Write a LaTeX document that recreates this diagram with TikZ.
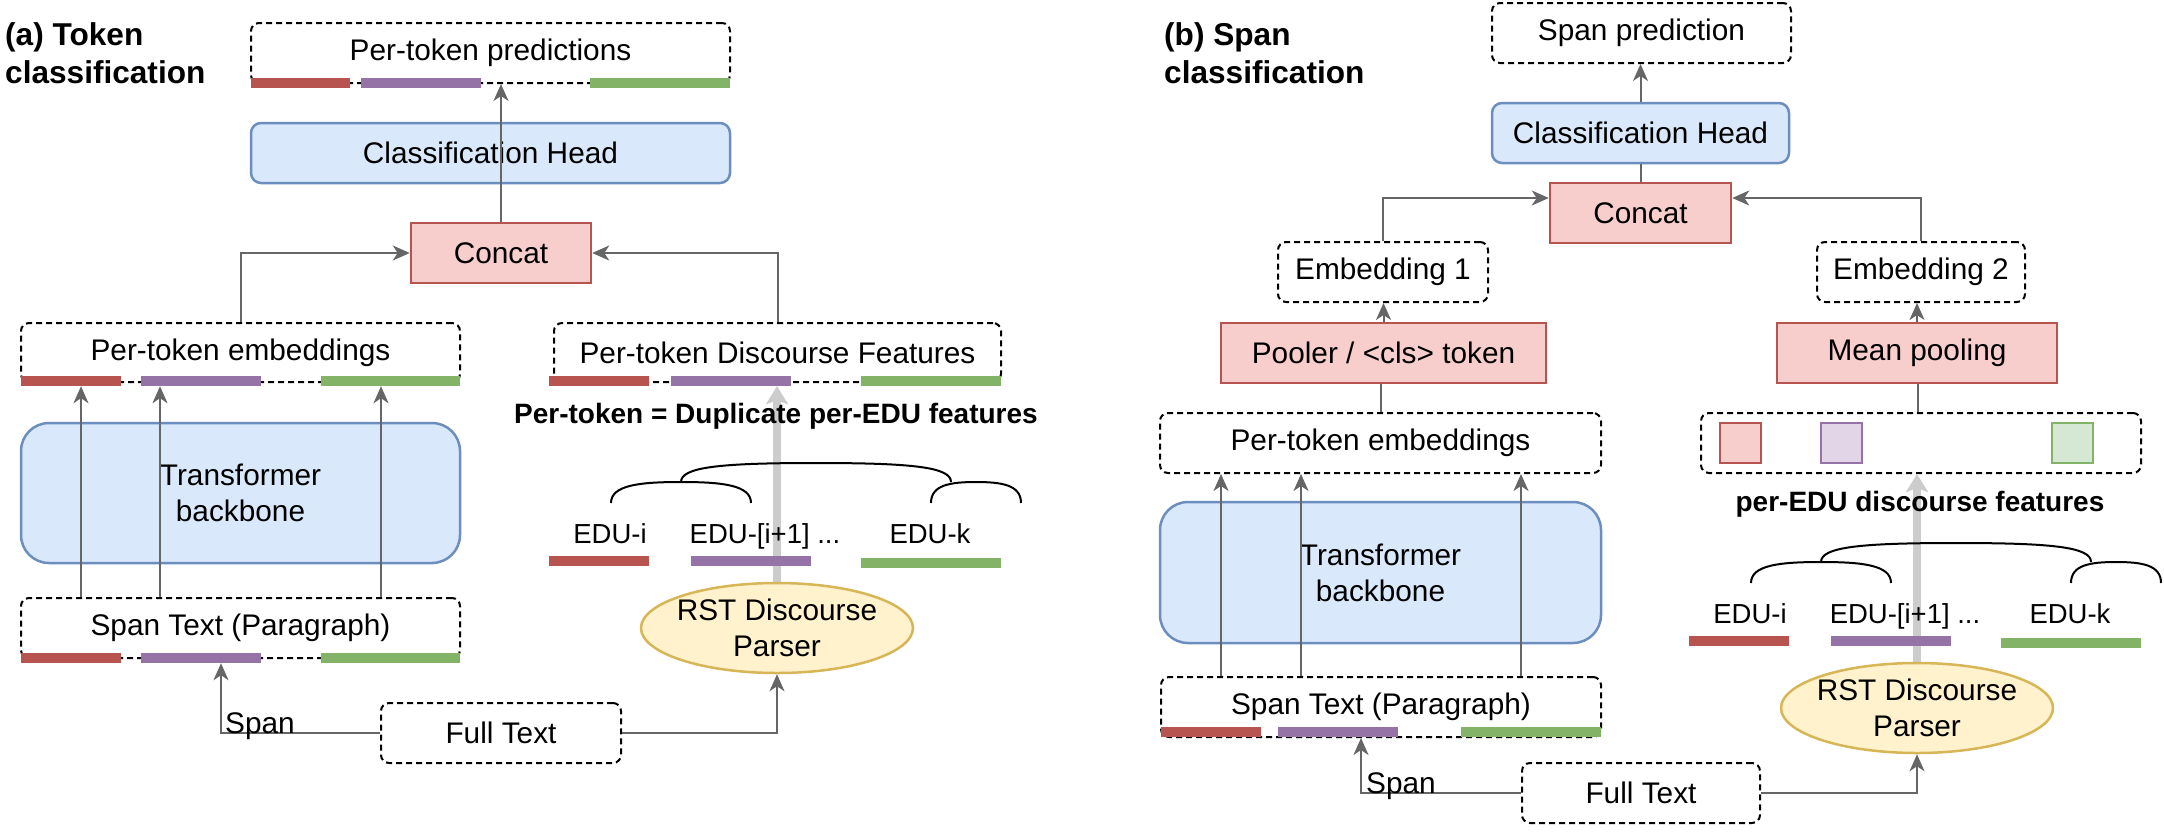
\documentclass[tikz,border=0pt]{standalone}
\usepackage{fontspec}
\setmainfont{Liberation Sans}
\usetikzlibrary{positioning, arrows.meta, shapes.geometric, backgrounds}

\definecolor{clrline}{HTML}{666666}
\definecolor{blueL}{HTML}{DAE8FC}
\definecolor{blueD}{HTML}{6C8EBF}
\definecolor{redL}{HTML}{F8CECC}
\definecolor{redD}{HTML}{B85450}
\definecolor{yelL}{HTML}{FFF2CC}
\definecolor{yelD}{HTML}{D6B656}
\definecolor{purL}{HTML}{E1D5E7}
\definecolor{purD}{HTML}{9673A6}
\definecolor{grnL}{HTML}{D5E8D4}
\definecolor{grnD}{HTML}{82B366}

\tikzset{
	dashbox/.style={draw, line width=2pt, dash pattern=on 6pt off 4pt, rounded corners=8pt, inner sep=0pt, align=center},
	headbox/.style={draw=blueD, fill=blueL, line width=2.5pt, rounded corners=10pt, inner sep=0pt, align=center},
	catbox/.style={draw=redD, fill=redL, line width=2.5pt, inner sep=0pt},
	parser/.style={ellipse, draw=yelD, fill=yelL, line width=2.5pt, inner sep=0pt, minimum width=272pt, minimum height=90pt},
	bar/.style={inner sep=0pt, minimum height=10pt},
	sq/.style={line width=2pt, inner sep=0pt, minimum width=41pt, minimum height=40pt},
	conn/.style={draw=clrline, line width=2pt, -{Stealth[length=17pt, width=15pt, inset=5pt]}},
	link/.style={draw=clrline, line width=2pt},
	fatarrow/.style={draw=black!20, line width=8pt, -{Stealth[length=18pt, width=22pt, inset=4pt]}},
	tree/.style={line width=2pt},
	title/.style={anchor=north west, align=left, inner sep=0pt, font=\bfseries\fontsize{31.6}{38}\selectfont},
	note/.style={anchor=base, inner sep=0pt, font=\bfseries\fontsize{28}{33}\selectfont},
	edu/.style={anchor=base, inner sep=0pt, font=\fontsize{27.5}{33}\selectfont},
}

\begin{document}
\begin{tikzpicture}[x=1pt, y=-1pt, font=\fontsize{29.8}{35.8}\selectfont]
	\useasboundingbox (0,0) rectangle (2164,831);
	
	% ---------- (a) Token classification ----------
	\node[title] (titlea) at (5,22) {(a) Token\\classification};
	
	\node[dashbox, minimum width=479pt, minimum height=60pt] (predtok) at (490.5,53) {Per-token predictions};
	\node[bar, fill=redD, minimum width=99pt] (predr) at (300.5,83) {};
	\node[bar, fill=purD, minimum width=120pt] (predp) at (421,83) {};
	\node[bar, fill=grnD, minimum width=140pt] (predg) at (660,83) {};
	
	\node[headbox, minimum width=479pt, minimum height=60pt] (heada) at (490.5,153) {Classification Head};
	\node[catbox, minimum width=180pt, minimum height=60pt] (cata) at (501,253) {Concat};
	
	% token side
	\node[dashbox, minimum width=439pt, minimum height=59pt] (embtok) at (240.5,352.5) {Per-token embeddings};
	\node[bar, fill=redD, minimum width=100pt] (embr) at (71,381) {};
	\node[bar, fill=purD, minimum width=120pt] (embp) at (201,381) {};
	\node[bar, fill=grnD, minimum width=139pt] (embg) at (390.5,381) {};
	
	\node[headbox, rounded corners=28pt, minimum width=439pt, minimum height=140pt] (backa) at (240.5,493) {Transformer\\backbone};
	
	\node[dashbox, minimum width=439pt, minimum height=60pt] (spana) at (240.5,628) {Span Text (Paragraph)};
	\node[bar, fill=redD, minimum width=100pt] (spanr) at (71,658) {};
	\node[bar, fill=purD, minimum width=120pt] (spanp) at (201,658) {};
	\node[bar, fill=grnD, minimum width=139pt] (spang) at (390.5,658) {};
	
	\node[dashbox, minimum width=240pt, minimum height=60pt] (fulla) at (501,733) {Full Text};
	
	% discourse side
	\node[dashbox, minimum width=447pt, minimum height=59pt] (disca) at (777.5,352.5) {Per-token Discourse Features};
	\node[bar, fill=redD, minimum width=100pt] (disr) at (599,381) {};
	\node[bar, fill=purD, minimum width=120pt] (disp) at (731,381) {};
	\node[bar, fill=grnD, minimum width=140pt] (disg) at (931,381) {};
	\node[note] (dupa) at (776,423) {Per-token = Duplicate per-EDU features};
	
	\draw[tree] (611,503) .. controls (611,485) and (640,482) .. (681,482) .. controls (722,482) and (751,485) .. (751,503);
	\draw[tree] (681,482) .. controls (681,467) and (720,463) .. (816,463) .. controls (912,463) and (951,467) .. (951,482);
	\draw[tree] (931,503) .. controls (931,485) and (950,482) .. (976,482) .. controls (1002,482) and (1021,485) .. (1021,503);
	
	\node[edu] (edua1) at (610,543) {EDU-i};
	\node[edu] (edua2) at (765,543) {EDU-[i+1] ...};
	\node[edu] (edua3) at (930,543) {EDU-k};
	\node[bar, fill=redD, minimum width=100pt] (edar) at (599,561) {};
	\node[bar, fill=purD, minimum width=120pt] (edap) at (751,561) {};
	\node[bar, fill=grnD, minimum width=140pt] (edag) at (931,562.5) {};
	
	\node[parser, label={[align=center]center:RST Discourse\\Parser}] (parsa) at (777,628) {};
	
	% connectors (a)
	\begin{scope}[on background layer]
		\draw[fatarrow] (parsa.north) -- (parsa.north |- disp.south);
	\end{scope}
	\draw[conn] (cata.north) -- (cata.north |- predtok.south);
	\draw[conn] (embtok.north) |- (cata.west);
	\draw[conn] (disca.north) |- (cata.east);
	\draw[conn] (81,0 |- spana.north) -- (81,0 |- embr.south);
	\draw[conn] (160,0 |- spana.north) -- (160,0 |- embp.south);
	\draw[conn] (381,0 |- spana.north) -- (381,0 |- embg.south);
	\draw[conn] (fulla.west) -| (221,0 |- spanp.south);
	\node[anchor=base west, inner sep=0pt] (spanlba) at (225,733) {Span};
	\draw[conn] (fulla.east) -| (parsa.south);
	
	% ---------- (b) Span classification ----------
	\node[title] (titleb) at (1164,22) {(b) Span\\classification};
	
	\node[dashbox, minimum width=299pt, minimum height=60pt] (predspan) at (1641.5,33) {Span prediction};
	\node[headbox, minimum width=297pt, minimum height=60pt] (headb) at (1640.5,133) {Classification Head};
	\node[catbox, minimum width=181pt, minimum height=60pt] (catb) at (1640.5,213) {Concat};
	
	\node[dashbox, minimum width=210pt, minimum height=60pt] (embone) at (1383,272) {Embedding 1};
	\node[dashbox, minimum width=208pt, minimum height=60pt] (embtwo) at (1921,272) {Embedding 2};
	\node[catbox, minimum width=325pt, minimum height=60pt] (pooler) at (1383.5,353) {Pooler / <cls> token};
	\node[catbox, minimum width=280pt, minimum height=60pt] (meanpool) at (1917,353) {Mean pooling};
	
	% token side
	\node[dashbox, minimum width=441pt, minimum height=60pt] (embtokb) at (1380.5,443) {Per-token embeddings};
	\node[headbox, rounded corners=28pt, minimum width=441pt, minimum height=141pt] (backb) at (1380.5,572.5) {Transformer\\backbone};
	\node[dashbox, minimum width=440pt, minimum height=60pt] (spanb) at (1381,707) {Span Text (Paragraph)};
	\node[bar, fill=redD, minimum width=100pt] (spbr) at (1211,732) {};
	\node[bar, fill=purD, minimum width=120pt] (spbp) at (1338,732) {};
	\node[bar, fill=grnD, minimum width=140pt] (spbg) at (1531,732) {};
	\node[dashbox, minimum width=238pt, minimum height=60pt] (fullb) at (1641,793) {Full Text};
	
	% discourse side
	\node[dashbox, minimum width=440pt, minimum height=60pt] (edufeat) at (1921,443) {};
	\node[sq, draw=redD, fill=redL] (sqr) at (1740.5,443) {};
	\node[sq, draw=purD, fill=purL] (sqp) at (1841,443) {};
	\node[sq, draw=grnD, fill=grnL] (sqg) at (2072.5,443) {};
	\node[note] (edunote) at (1920,511) {per-EDU discourse features};
	
	\draw[tree] (1751,583) .. controls (1751,565) and (1780,562) .. (1821,562) .. controls (1862,562) and (1891,565) .. (1891,583);
	\draw[tree] (1821,562) .. controls (1821,547) and (1860,543) .. (1956,543) .. controls (2052,543) and (2091,547) .. (2091,562);
	\draw[tree] (2071,583) .. controls (2071,565) and (2090,562) .. (2116,562) .. controls (2142,562) and (2161,565) .. (2161,583);
	
	\node[edu] (edub1) at (1750,623) {EDU-i};
	\node[edu] (edub2) at (1905,623) {EDU-[i+1] ...};
	\node[edu] (edub3) at (2070,623) {EDU-k};
	\node[bar, fill=redD, minimum width=100pt] (edbr) at (1739,641) {};
	\node[bar, fill=purD, minimum width=120pt] (edbp) at (1891,641) {};
	\node[bar, fill=grnD, minimum width=140pt] (edbg) at (2071,642.5) {};
	
	\node[parser, label={[align=center]center:RST Discourse\\Parser}] (parsb) at (1917,708) {};
	
	% connectors (b)
	\begin{scope}[on background layer]
		\draw[fatarrow] (parsb.north) -- (parsb.north |- edufeat.south);
	\end{scope}
	\draw[conn] (headb.north) -- (headb.north |- predspan.south);
	\draw[link] (catb.north) -- (headb.south);
	\draw[conn] (embone.north) |- ([yshift=15pt]catb.west);
	\draw[conn] (embtwo.north) |- ([yshift=15pt]catb.east);
	\draw[conn] (pooler.north) -- (pooler.north |- embone.south);
	\draw[conn] (meanpool.north) -- (meanpool.north |- embtwo.south);
	\draw[link] (embtokb.north) -- (embtokb.north |- pooler.south);
	\draw[link] (1918,0 |- edufeat.north) -- (1918,0 |- meanpool.south);
	\draw[conn] (1221,0 |- spanb.north) -- (1221,0 |- embtokb.south);
	\draw[conn] (1301,0 |- spanb.north) -- (1301,0 |- embtokb.south);
	\draw[conn] (1521,0 |- spanb.north) -- (1521,0 |- embtokb.south);
	\draw[conn] (fullb.west) -| (1361,0 |- spanb.south);
	\node[anchor=base west, inner sep=0pt] (spanlbb) at (1366,793) {Span};
	\draw[conn] (fullb.east) -| (parsb.south);
\end{tikzpicture}
\end{document}
